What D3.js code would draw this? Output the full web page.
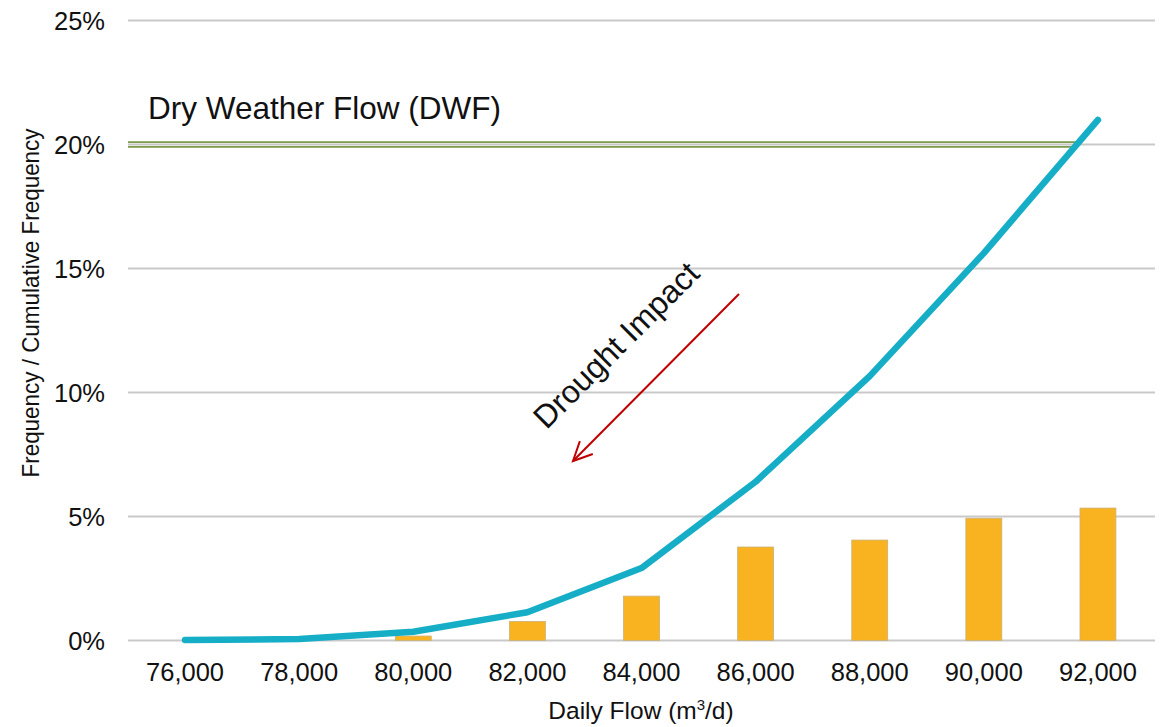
<!DOCTYPE html>
<html>
<head>
<meta charset="utf-8">
<script src="https://cdn.jsdelivr.net/npm/d3@7"></script>
<style>
  html, body { margin: 0; padding: 0; background: #ffffff; }
  svg { display: block; font-family: "Liberation Sans", Arial, sans-serif; }
</style>
</head>
<body>
<svg id="chart" width="1170" height="727"></svg>
<script>
// ---- data ----
const categories = ["76,000", "78,000", "80,000", "82,000", "84,000", "86,000", "88,000", "90,000", "92,000"];
const frequency = [0.0, 0.0, 0.18, 0.77, 1.79, 3.77, 4.05, 4.93, 5.34];          // %
const cumulative = [0.02, 0.06, 0.35, 1.14, 2.92, 6.40, 10.66, 15.62, 20.99];   // %
const yTicks = [0, 5, 10, 15, 20, 25];                                          // %
const dwfValue = 20;                                                            // %
const dwfLabel = "Dry Weather Flow (DWF)";
const annotationLabel = "Drought Impact";
const xTitle = "Daily Flow (m";
const yTitle = "Frequency / Cumulative Frequency";

(function () {
// ---- layout ----
const svg = d3.select("#chart");
const pLeft = 128, pRight = 1155, pTop = 20.5, pBottom = 640.5;

const x = d3.scaleBand().domain(categories).range([pLeft, pRight])
  .paddingInner(0.685).paddingOuter(0.685 / 2);
const xc = d => x(d) + x.bandwidth() / 2;
const y = d3.scaleLinear().domain([0, 25]).range([pBottom, pTop]);

// gridlines
svg.append("g").selectAll("line").data(yTicks).join("line")
  .attr("x1", pLeft).attr("x2", pRight)
  .attr("y1", d => y(d)).attr("y2", d => y(d))
  .attr("stroke", "#c9c9c9").attr("stroke-width", 2);

// y axis
const yAxis = d3.axisLeft(y).tickValues(yTicks).tickSize(0).tickPadding(23)
  .tickFormat(d => d + "%");
const gy = svg.append("g").attr("transform", `translate(${pLeft},0)`).call(yAxis);
gy.select(".domain").remove();
gy.selectAll("text").attr("font-size", 25.5).attr("fill", "#111")
  .attr("font-family", "Liberation Sans, Arial, sans-serif").attr("dy", "0.37em");

// x axis
const xAxis = d3.axisBottom(x).tickSize(0).tickPadding(22.5);
const gx = svg.append("g").attr("transform", `translate(0,${pBottom})`).call(xAxis);
gx.select(".domain").remove();
gx.selectAll("text").attr("font-size", 25.5).attr("fill", "#111")
  .attr("font-family", "Liberation Sans, Arial, sans-serif");

// DWF line (double green) ending where cumulative curve crosses it
let dwfEnd = pRight;
for (let i = 1; i < cumulative.length; i++) {
  if (cumulative[i - 1] < dwfValue && cumulative[i] >= dwfValue) {
    const t = (dwfValue - cumulative[i - 1]) / (cumulative[i] - cumulative[i - 1]);
    dwfEnd = xc(categories[i - 1]) + t * (xc(categories[i]) - xc(categories[i - 1]));
  }
}
[-2.4, 2.4].forEach(off => {
  svg.append("line")
    .attr("x1", pLeft).attr("x2", dwfEnd)
    .attr("y1", y(dwfValue) + off).attr("y2", y(dwfValue) + off)
    .attr("stroke", "#7b9a4a").attr("stroke-width", 1.6);
});
svg.append("text").attr("x", 148).attr("y", 119)
  .attr("font-size", 31.5).attr("fill", "#111").text(dwfLabel);

// bars
svg.append("g").selectAll("rect").data(categories).join("rect")
  .attr("x", d => x(d))
  .attr("width", x.bandwidth())
  .attr("y", (d, i) => y(frequency[i]))
  .attr("height", (d, i) => Math.max(0, y(0) - y(frequency[i])))
  .attr("fill", (d, i) => frequency[i] > 0 ? "#f9b320" : "none")
  .attr("stroke", (d, i) => frequency[i] > 0 ? "#c8b27a" : "none")
  .attr("stroke-width", 0.8);

// cumulative line
const line = d3.line().x((d, i) => xc(categories[i])).y(d => y(d));
svg.append("path").datum(cumulative)
  .attr("d", line)
  .attr("fill", "none")
  .attr("stroke", "#15aec6")
  .attr("stroke-width", 6.5)
  .attr("stroke-linecap", "round")
  .attr("stroke-linejoin", "round");

// drought impact arrow
const ax1 = 739, ay1 = 294, ax2 = 573, ay2 = 461;
const ang = Math.atan2(ay2 - ay1, ax2 - ax1);
const head = 21, spread = Math.PI / 7;
svg.append("line").attr("x1", ax1).attr("y1", ay1).attr("x2", ax2).attr("y2", ay2)
  .attr("stroke", "#c00000").attr("stroke-width", 2);
svg.append("path")
  .attr("d", `M${ax2 - head * Math.cos(ang - spread)},${ay2 - head * Math.sin(ang - spread)}L${ax2},${ay2}L${ax2 - head * Math.cos(ang + spread)},${ay2 - head * Math.sin(ang + spread)}`)
  .attr("fill", "none").attr("stroke", "#c00000").attr("stroke-width", 2);

svg.append("text")
  .attr("transform", "translate(616,345) rotate(-45)")
  .attr("text-anchor", "middle").attr("dy", "0.35em")
  .attr("font-size", 32).attr("fill", "#111").text(annotationLabel);

// axis titles
const xt = svg.append("text").attr("x", 641).attr("y", 719)
  .attr("text-anchor", "middle").attr("font-size", 24.5).attr("fill", "#111");
xt.append("tspan").text(xTitle);
xt.append("tspan").attr("font-size", 15).attr("dy", -9).text("3");
xt.append("tspan").attr("dy", 9).text("/d)");

svg.append("text")
  .attr("transform", "translate(39,303) rotate(-90)")
  .attr("text-anchor", "middle").attr("font-size", 24)
  .attr("textLength", 349).attr("lengthAdjust", "spacingAndGlyphs")
  .attr("fill", "#111").text(yTitle);
})();
</script>
</body>
</html>
